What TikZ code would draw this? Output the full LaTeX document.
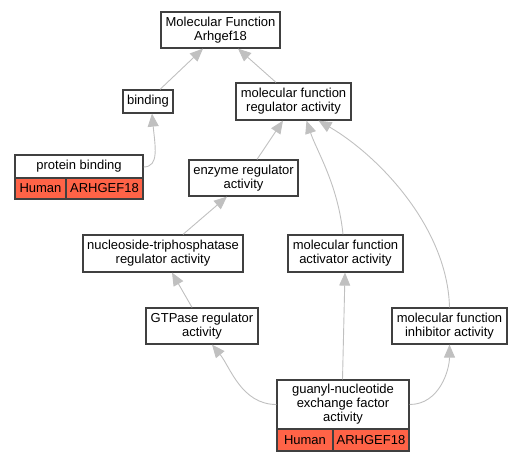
\documentclass[tikz,border=0pt]{standalone}
\usepackage{fontspec}
\setmainfont{Liberation Sans}
\usetikzlibrary{arrows.meta,calc}
\definecolor{edgegray}{RGB}{192,192,192}
\definecolor{boxline}{RGB}{64,64,64}
\definecolor{orgfill}{RGB}{255,99,71}
\tikzset{
  term/.style={draw=boxline, line width=1.2pt, fill=white, align=center, inner sep=0pt,
    font=\fontsize{13}{14}\selectfont},
  cell/.style={draw=boxline, line width=1.2pt, fill=orgfill, inner sep=0pt,
    font=\fontsize{13}{14}\selectfont},
  isa/.style={draw=edgegray, line width=0.9pt, -{Triangle[length=13pt,width=11pt,fill=edgegray]}}
}
\begin{document}
\begin{tikzpicture}[x=1pt,y=-1pt]
\useasboundingbox (0,0) rectangle (527,461);
% nodes
\node[term, minimum width=119pt, minimum height=36pt] (top) at (220.5,30) {Molecular Function\\Arhgef18};
\node[term, minimum width=50pt, minimum height=23pt] (binding) at (148,101.5) {binding};
\node[term, minimum width=115pt, minimum height=37pt] (mfra) at (293.5,101.5) {molecular function\\regulator activity};
\node[term, minimum width=128pt, minimum height=23pt] (pb) at (79,166.5) {protein binding};
\node[cell, minimum width=51pt, minimum height=21pt] (pbh) at (40.5,188.5) {Human};
\node[cell, minimum width=77pt, minimum height=21pt] (pbg) at (104.5,188.5) {ARHGEF18};
\node[term, minimum width=109pt, minimum height=36pt] (enz) at (243.5,178) {enzyme regulator\\activity};
\node[term, minimum width=160pt, minimum height=37pt] (ntp) at (163,253.5) {nucleoside-triphosphatase\\regulator activity};
\node[term, minimum width=115pt, minimum height=37pt] (mfaa) at (345.5,253.5) {molecular function\\activator activity};
\node[term, minimum width=112pt, minimum height=36pt] (gtp) at (202,326) {GTPase regulator\\activity};
\node[term, minimum width=115pt, minimum height=36pt] (mfia) at (449.5,326) {molecular function\\inhibitor activity};
\node[term, minimum width=132pt, minimum height=49pt] (gef) at (343,404.5) {guanyl-nucleotide\\exchange factor\\activity};
\node[cell, minimum width=56pt, minimum height=22pt] (gefh) at (305,440) {Human};
\node[cell, minimum width=76pt, minimum height=22pt] (gefg) at (371,440) {ARHGEF18};
% edges
\draw[isa] ([xshift=12pt]binding.north) -- ([xshift=-17.5pt]top.south);
\draw[isa] ([xshift=-17.5pt]mfra.north) -- ([xshift=17.5pt]top.south);
\draw[isa] ([yshift=-0.5pt]pb.east) .. controls +(16,0) and +(3,32) .. ([xshift=4pt]binding.south);
\draw[isa] ([xshift=13.5pt]enz.north) -- ([xshift=-10.5pt]mfra.south);
\draw[isa] ([xshift=20pt]ntp.north) -- ([xshift=-16.5pt]enz.south);
\draw[isa] ([xshift=-2.5pt]mfaa.north) .. controls +(-5,-50) and +(10,30) .. ([xshift=13pt]mfra.south);
\draw[isa] (mfia.north) .. controls +(-2,-80) and +(60,35) .. ([xshift=25pt]mfra.south);
\draw[isa] ([xshift=-10pt]gtp.north) -- ([xshift=9pt]ntp.south);
\draw[isa] ([xshift=-0.5pt]gef.north) -- ([xshift=-0.5pt]mfaa.south);
\draw[isa] (gef.west) .. controls +(-35,0) and +(18,22) .. ([xshift=10pt]gtp.south);
\draw[isa] (gef.east) .. controls +(30,0) and +(0,25) .. (mfia.south);
\end{tikzpicture}
\end{document}
